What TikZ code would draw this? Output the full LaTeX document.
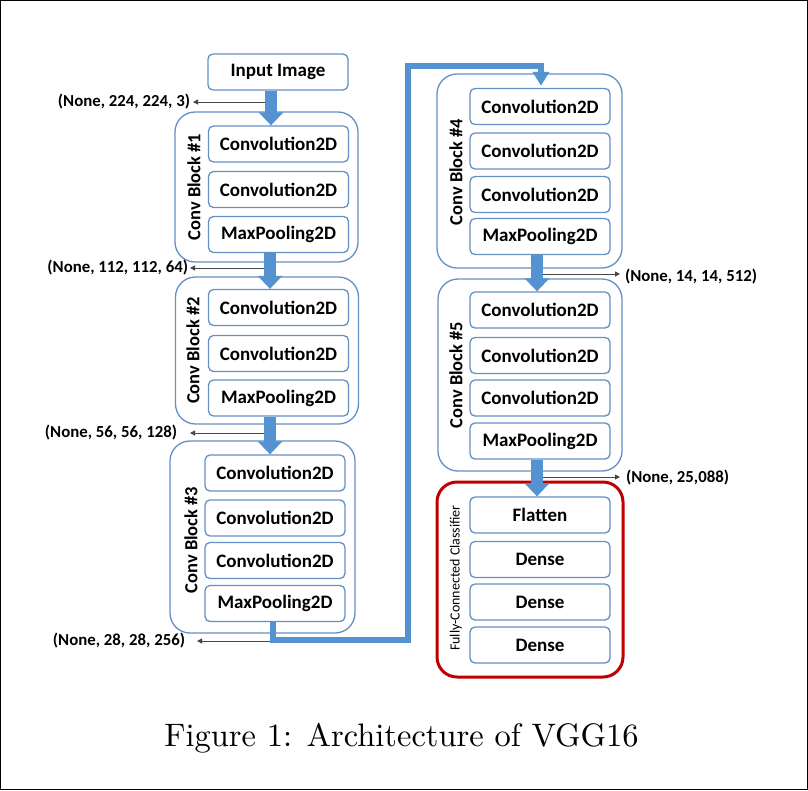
\documentclass[tikz,border=0pt]{standalone}
\usepackage{fontspec}
\newfontfamily\carlito{Carlito}
\newfontfamily\capfont{lmroman10-regular}[Extension=.otf]
\usetikzlibrary{arrows.meta}
\definecolor{flowblue}{RGB}{84,146,210}
\definecolor{boxblue}{RGB}{100,143,196}
\definecolor{clsred}{RGB}{192,0,0}
\definecolor{arrgray}{RGB}{70,70,70}
\tikzset{
  layer/.style={draw=boxblue, line width=1.3pt, rounded corners=5pt, minimum width=140pt, minimum height=36pt, inner sep=0pt, font=\carlito\bfseries\fontsize{19}{21}\selectfont},
  block/.style={draw=boxblue, line width=1.3pt, rounded corners=20pt, inner sep=0pt},
  blocklab/.style={rotate=90, inner sep=0pt, font=\carlito\bfseries\fontsize{18.5}{20}\selectfont},
  flow/.style={draw=flowblue, line width=12pt, -{Triangle[width=24pt,length=13pt]}},
  flowthin/.style={draw=flowblue, line width=6pt, line join=miter, -{Triangle[width=16pt,length=14pt]}},
  shapelab/.style={inner sep=0pt, outer sep=0pt, font=\carlito\bfseries\fontsize{16.8}{18}\selectfont},
  shapearrow/.style={draw=arrgray, line width=1pt, -{Triangle[width=5pt,length=5pt]}},
}
\begin{document}
\begin{tikzpicture}[x=1pt,y=-1pt]
\useasboundingbox (0,0) rectangle (808,790);
\draw[line width=1.3pt] (0.75,0.75) rectangle (807.25,789.25);

% input
\node[layer] (inp) at (278,72) {Input Image};

% block 1
\node[block, minimum width=183pt, minimum height=150pt] (b1) at (266.5,187) {};
\node[blocklab] (b1l) at (194,187) {Conv Block \#1};
\node[layer] (c11) at (278.5,144) {Convolution2D};
\node[layer] (c12) at (278.5,189.5) {Convolution2D};
\node[layer] (m1) at (278.5,234.5) {MaxPooling2D};

% block 2
\node[block, minimum width=183pt, minimum height=147pt] (b2) at (267,350.5) {};
\node[blocklab] (b2l) at (193,350.5) {Conv Block \#2};
\node[layer] (c21) at (278.5,307.5) {Convolution2D};
\node[layer] (c22) at (278.5,353.5) {Convolution2D};
\node[layer] (m2) at (278.5,398) {MaxPooling2D};

% block 3
\node[block, minimum width=185pt, minimum height=192pt] (b3) at (262.5,537) {};
\node[blocklab] (b3l) at (191,540) {Conv Block \#3};
\node[layer] (c31) at (275,473) {Convolution2D};
\node[layer] (c32) at (275,518) {Convolution2D};
\node[layer] (c33) at (275,560.5) {Convolution2D};
\node[layer] (m3) at (275,603.5) {MaxPooling2D};

% block 4
\node[block, minimum width=185pt, minimum height=194pt] (b4) at (529.5,171) {};
\node[blocklab] (b4l) at (456,172) {Conv Block \#4};
\node[layer] (c41) at (540,106.5) {Convolution2D};
\node[layer] (c42) at (540,151) {Convolution2D};
\node[layer] (c43) at (540,194.5) {Convolution2D};
\node[layer] (m4) at (540,236.5) {MaxPooling2D};

% block 5
\node[block, minimum width=184pt, minimum height=192pt] (b5) at (530,375) {};
\node[blocklab] (b5l) at (456,375) {Conv Block \#5};
\node[layer] (c51) at (540,310) {Convolution2D};
\node[layer] (c52) at (540,355.5) {Convolution2D};
\node[layer] (c53) at (540,398) {Convolution2D};
\node[layer] (m5) at (540,441) {MaxPooling2D};

% classifier
\node[block, draw=clsred, line width=3pt, minimum width=186pt, minimum height=195pt] (cls) at (530,579.5) {};
\node[rotate=90, inner sep=0pt, font=\carlito\fontsize{14}{16}\selectfont] (clsl) at (456,578) {Fully-Connected Classifier};
\node[layer] (fl) at (540,515) {Flatten};
\node[layer] (d1) at (540,559.5) {Dense};
\node[layer] (d2) at (540,602) {Dense};
\node[layer] (d3) at (540,645) {Dense};

% column coordinates
\coordinate (colA) at (271,0);
\coordinate (colB) at (270,0);
\coordinate (colC) at (273,0);
\coordinate (colR) at (537,0);
\coordinate (colT) at (541,0);
\coordinate (j1) at (408,640);
\coordinate (j2) at (408,66);

% shape labels and their arrows
\node[shapelab, anchor=east] (l1) at (190,102) {(None, 224, 224, 3)};
\node[shapelab, anchor=east] (l2) at (188,268) {(None, 112, 112, 64)};
\node[shapelab, anchor=east] (l3) at (177,433) {(None, 56, 56, 128)};
\node[shapelab, anchor=east] (l4) at (185,641) {(None, 28, 28, 256)};
\node[shapelab, anchor=west] (l5) at (625,277) {(None, 14, 14, 512)};
\node[shapelab, anchor=west] (l6) at (626,478) {(None, 25,088)};
\coordinate (s1) at (268,102);
\coordinate (s2) at (268,268);
\coordinate (s3) at (268,433);
\coordinate (s4) at (273,641);
\coordinate (s5) at (537,274);
\coordinate (s6) at (537,477);
\draw[shapearrow] (s1) -- ([xshift=3pt]s1 -| l1.east);
\draw[shapearrow] (s2) -- ([xshift=2pt]s2 -| l2.east);
\draw[shapearrow] (s3) -- ([xshift=13pt]s3 -| l3.east);
\draw[shapearrow] (s4) -- ([xshift=12pt]s4 -| l4.east);
\draw[shapearrow] (s5) -- ([xshift=-5pt]s5 -| l5.west);
\draw[shapearrow] (s6) -- ([xshift=-6pt]s6 -| l6.west);

% flow arrows
\draw[flow] (inp.south -| colA) -- (c11.north -| colA);
\draw[flow] (m1.south -| colB) -- (c21.north -| colB);
\draw[flow] (m2.south -| colB) -- (c31.north -| colB);
\draw[flow] (m4.south -| colR) -- (c51.north -| colR);
\draw[flow] (m5.south -| colR) -- (fl.north -| colR);
\draw[flowthin] (m3.south -| colC) |- (j1) -- (j2) -| ([yshift=2pt]c41.north -| colT);

% caption
\node[anchor=base, inner sep=0pt, font=\capfont\fontsize{32.5}{36}\selectfont] (cap) at (401.5,746) {Figure 1: Architecture of VGG16};
\end{tikzpicture}
\end{document}
